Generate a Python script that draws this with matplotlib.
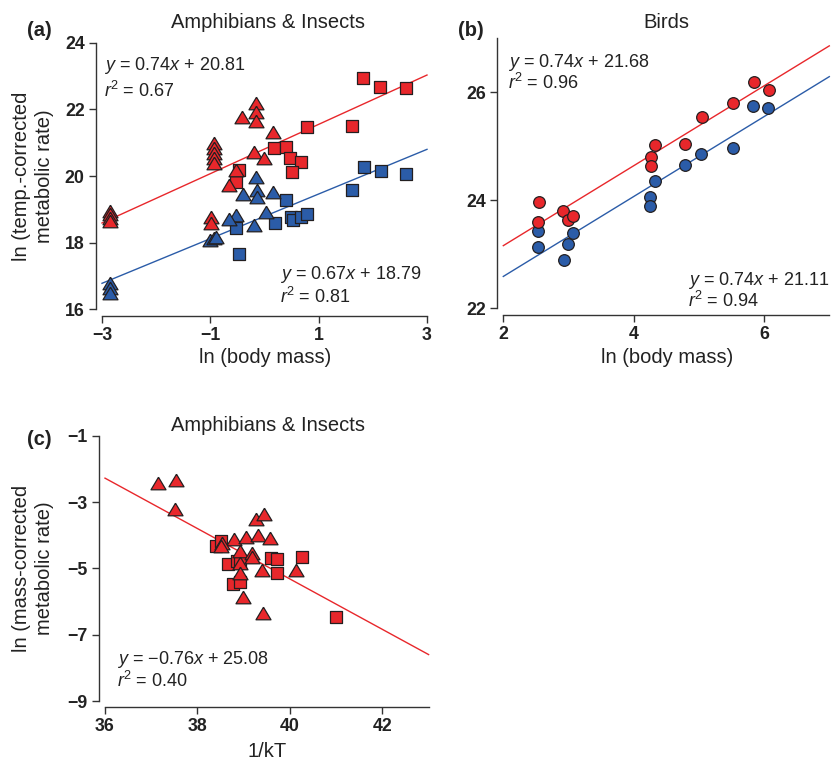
import numpy as np
import matplotlib
matplotlib.use("Agg")
import matplotlib.pyplot as plt

plt.rcParams['font.family'] = ['Liberation Sans', 'DejaVu Sans']
plt.rcParams['mathtext.fontset'] = 'custom'
plt.rcParams['mathtext.rm'] = 'Liberation Sans'
plt.rcParams['mathtext.it'] = 'Liberation Sans:italic'

RED = '#e8272b'
BLUE = '#2b5ca8'
EDGE = '#231f20'

# ---- panel (a): amphibians & insects, ln body mass vs temp-corrected rate
a_red_tri_x = [-2.85, -2.85, -2.85, -2.85, -0.93, -0.93, -0.93, -0.93, -0.93,
               -0.98, -0.98, -0.52, -0.65, -0.42, -0.15, -0.15, -0.15, 0.15, -0.2, -0.01]
a_red_tri_y = [18.95, 18.85, 18.75, 18.65, 21.0, 20.85, 20.7, 20.55, 20.4,
               18.78, 18.58, 20.18, 19.73, 21.78, 22.18, 21.93, 21.66, 21.33, 20.73, 20.53]
a_red_sq_x = [-0.48, -0.53, 0.18, 0.39, 0.47, 0.67, 0.51, 0.78, 1.62, 1.82, 2.14, 2.62]
a_red_sq_y = [20.18, 19.83, 20.83, 20.86, 20.53, 20.43, 20.13, 21.48, 21.5, 22.93, 22.66, 22.63]
a_blue_tri_x = [-2.85, -2.85, -2.85, -1.0, -0.93, -0.9, -0.15, -0.13, -0.14, -0.4,
                0.16, 0.02, -0.52, -0.65, -0.2]
a_blue_tri_y = [16.8, 16.65, 16.5, 18.08, 18.13, 18.18, 19.98, 19.58, 19.38, 19.46,
                19.53, 18.93, 18.83, 18.7, 18.53]
a_blue_sq_x = [0.39, -0.52, -0.47, 0.19, 0.48, 0.52, 0.68, 0.78, 1.62, 1.83, 2.15, 2.62]
a_blue_sq_y = [19.28, 18.43, 17.65, 18.6, 18.78, 18.68, 18.76, 18.86, 19.58, 20.28, 20.16, 20.06]
a_fit_red = (0.74, 20.81, 0.67)
a_fit_blue = (0.67, 18.79, 0.81)

# ---- panel (b): birds
b_red_x = [2.54, 2.53, 2.92, 2.99, 3.07, 4.26, 4.26, 4.33, 4.78, 5.04, 5.53, 5.84, 6.07]
b_red_y = [23.96, 23.6, 23.81, 23.64, 23.71, 24.8, 24.64, 25.03, 25.04, 25.55, 25.81, 26.19, 26.05]
b_blue_x = [2.53, 2.53, 2.93, 2.99, 3.07, 4.25, 4.25, 4.32, 4.78, 5.03, 5.53, 5.83, 6.06]
b_blue_y = [23.43, 23.13, 22.89, 23.2, 23.4, 24.06, 23.9, 24.35, 24.66, 24.85, 24.96, 25.74, 25.71]
b_fit_red = (0.74, 21.68, 0.96)
b_fit_blue = (0.74, 21.11, 0.94)

# ---- panel (c): amphibians & insects, 1/kT vs mass-corrected rate
c_tri_x = [37.15, 37.54, 37.52, 39.26, 39.45, 38.79, 39.05, 39.32, 39.58, 38.54,
           38.52, 38.92, 39.19, 39.19, 38.93, 38.92, 39.39, 40.13, 38.98, 39.42]
c_tri_y = [-2.44, -2.34, -3.22, -3.51, -3.37, -4.1, -4.05, -4.0, -4.07, -4.23,
           -4.33, -4.47, -4.53, -4.65, -4.83, -5.13, -5.05, -5.05, -5.87, -6.34]
c_sq_x = [38.4, 38.52, 38.65, 38.85, 38.92, 39.59, 39.73, 40.27, 39.73, 38.76, 38.93, 41.0]
c_sq_y = [-4.33, -4.17, -4.87, -4.77, -4.8, -4.7, -4.73, -4.65, -5.15, -5.47, -5.4, -6.46]
c_fit = (-0.76, 25.08, 0.40)

W, H = 832, 763
fig = plt.figure(figsize=(W / 100, H / 100), dpi=100)

# a slightly squat triangle, like the original figure
TRI = [(0, 0.84), (-1, -0.84), (1, -0.84), (0, 0.84)]
TRI_S = 10.8 ** 2
SQ_S = 8.6 ** 2
CIR_S = 8.4 ** 2


def fpos(x, y):
    return x / W, 1 - y / H


def style(ax, xlim, ylim, xticks, yticks):
    ax.set_xlim(*xlim)
    ax.set_ylim(*ylim)
    ax.set_xticks(xticks)
    ax.set_yticks(yticks)
    for s in ['top', 'right']:
        ax.spines[s].set_visible(False)
    for s in ['left', 'bottom']:
        ax.spines[s].set_position(('outward', 4.5))
        ax.spines[s].set_linewidth(1.0)
        ax.spines[s].set_color('#333333')
    ax.tick_params(direction='out', length=5, width=1.0, color='#333333', pad=3,
                   labelsize=12.8)
    for lab in ax.get_xticklabels() + ax.get_yticklabels():
        lab.set_fontweight('bold')
        lab.set_color('#222222')
    ax.patch.set_visible(False)


def fit_line(ax, fit, color):
    x = np.array(ax.get_xlim())
    ax.plot(x, fit[0] * x + fit[1], color=color, lw=1.0, zorder=1, clip_on=False)


def eq_text(ax, fx, fy, fit, dy=0.085):
    slope = ('%.2f' % fit[0]).replace('-', '\u2212')
    ax.text(fx, fy, r'$y$ = %s$x$ + %.2f' % (slope, fit[1]), transform=ax.transAxes,
            fontsize=13, va='center', ha='left', color='#222222')
    ax.text(fx, fy - dy, r'$r$$^2$ = %.2f' % fit[2], transform=ax.transAxes,
            fontsize=13, va='center', ha='left', color='#222222')


sc = dict(edgecolors=EDGE, linewidths=0.9, zorder=3, clip_on=False)

# (a)
ax = fig.add_axes([102 / W, 1 - 309.3 / H, 325 / W, 266.6 / H])
style(ax, (-3, 3), (16, 24), [-3, -1, 1, 3], [16, 18, 20, 22, 24])
fit_line(ax, a_fit_red, RED)
fit_line(ax, a_fit_blue, BLUE)
ax.scatter(a_blue_sq_x, a_blue_sq_y, marker='s', s=SQ_S, c=BLUE, **sc)
ax.scatter(a_blue_tri_x, a_blue_tri_y, marker=TRI, s=TRI_S, c=BLUE, **sc)
ax.scatter(a_red_sq_x, a_red_sq_y, marker='s', s=SQ_S, c=RED, **sc)
ax.scatter(a_red_tri_x, a_red_tri_y, marker=TRI, s=TRI_S, c=RED, **sc)
eq_text(ax, 0.006, 0.913, a_fit_red, dy=0.094)
eq_text(ax, 0.548, 0.129, a_fit_blue, dy=0.082)

# (b)
ax = fig.add_axes([503.3 / W, 1 - 308.3 / H, 326 / W, 270 / H])
style(ax, (2, 7), (22, 27), [2, 4, 6], [22, 24, 26])
fit_line(ax, b_fit_red, RED)
fit_line(ax, b_fit_blue, BLUE)
ax.scatter(b_blue_x, b_blue_y, marker='o', s=CIR_S, c=BLUE, **sc)
ax.scatter(b_red_x, b_red_y, marker='o', s=CIR_S, c=RED, **sc)
eq_text(ax, 0.015, 0.911, b_fit_red, dy=0.078)
eq_text(ax, 0.567, 0.102, b_fit_blue, dy=0.074)

# (c)
ax = fig.add_axes([105 / W, 1 - 701 / H, 323.6 / W, 265.3 / H])
style(ax, (36, 43), (-9, -1), [36, 38, 40, 42], [-9, -7, -5, -3, -1])
fit_line(ax, c_fit, RED)
ax.scatter(c_sq_x, c_sq_y, marker='s', s=SQ_S, c=RED, **sc)
ax.scatter(c_tri_x, c_tri_y, marker=TRI, s=TRI_S, c=RED, **sc)
eq_text(ax, 0.037, 0.155, c_fit, dy=0.08)

# titles, panel letters, axis labels
txt = dict(ha='center', color='#222222')
fig.text(*fpos(268, 28), 'Amphibians & Insects', fontsize=14.5, va='baseline', **txt)
fig.text(*fpos(666, 28), 'Birds', fontsize=14.5, va='baseline', **txt)
fig.text(*fpos(268, 431), 'Amphibians & Insects', fontsize=14.5, va='baseline', **txt)

fig.text(*fpos(39, 31), '(a)', fontsize=14.5, fontweight='bold', va='center', **txt)
fig.text(*fpos(471, 31), '(b)', fontsize=14.5, fontweight='bold', va='center', **txt)
fig.text(*fpos(39, 440), '(c)', fontsize=14.5, fontweight='bold', va='center', **txt)

fig.text(*fpos(265, 363), 'ln (body mass)', fontsize=14.5, va='baseline', **txt)
fig.text(*fpos(667, 363), 'ln (body mass)', fontsize=14.5, va='baseline', **txt)
fig.text(*fpos(267, 757), '1/kT', fontsize=14.5, va='baseline', **txt)

fig.text(*fpos(33, 176), 'ln (temp.-corrected\nmetabolic rate)', fontsize=14.5,
         rotation=90, multialignment='center', linespacing=1.2, va='center', **txt)
fig.text(*fpos(33, 568), 'ln (mass-corrected\nmetabolic rate)', fontsize=14.5,
         rotation=90, multialignment='center', linespacing=1.2, va='center', **txt)

fig.savefig('out.png', dpi=100)
